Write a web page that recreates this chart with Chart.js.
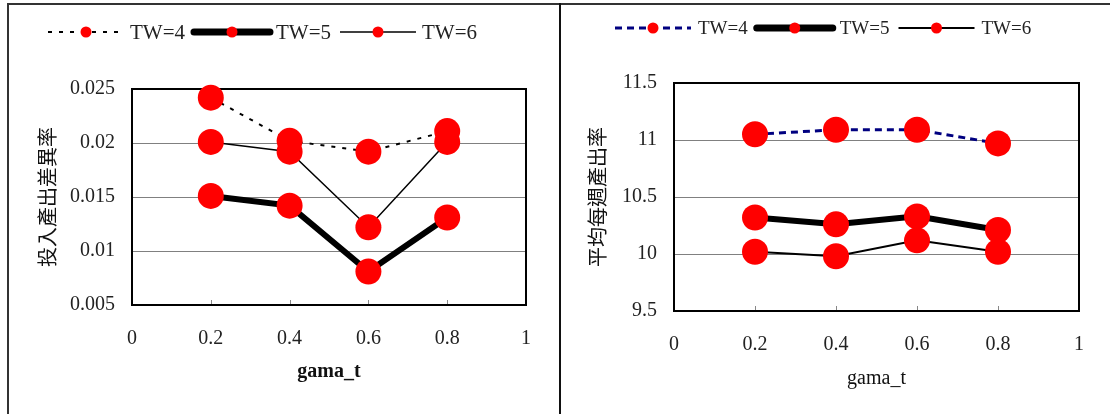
<!DOCTYPE html>
<html>
<head>
<meta charset="utf-8">
<script src="https://cdn.jsdelivr.net/npm/chart.js@4"></script>
<style>
  body { margin: 0; background: #fff; }
  #frame { position: absolute; left: 7px; top: 3px; width: 1110px; height: 420px; border: 2px solid #333; box-sizing: border-box; }
  #divider { position: absolute; left: 559px; top: 3px; width: 2px; height: 420px; background: #111; }
  canvas { position: absolute; }
  #leftChart { left: 9px; top: 5px; }
  #rightChart { left: 562px; top: 5px; }
</style>
</head>
<body>
<div id="frame"></div>
<div id="divider"></div>
<canvas id="leftChart" width="550" height="409"></canvas>
<canvas id="rightChart" width="548" height="409"></canvas>
<script>
// Values.
const xValues = [0.2, 0.4, 0.6, 0.8];
const seriesLabels = ['TW=4', 'TW=5', 'TW=6'];
const xTickLabels = ['0', '0.2', '0.4', '0.6', '0.8', '1'];

const leftTW4 = [0.0242, 0.0202, 0.0192, 0.0211];
const leftTW5 = [0.0151, 0.0142, 0.0081, 0.0131];
const leftTW6 = [0.0201, 0.0192, 0.0122, 0.0201];
const leftYTicks = ['0.005', '0.01', '0.015', '0.02', '0.025'];

const rightTW4 = [11.05, 11.09, 11.09, 10.97];
const rightTW5 = [10.32, 10.26, 10.33, 10.21];
const rightTW6 = [10.02, 9.98, 10.12, 10.02];
const rightYTicks = ['9.5', '10', '10.5', '11', '11.5'];

Chart.defaults.font.family = "'Liberation Serif', serif";
Chart.defaults.color = '#222';

const toPoints = (values) => xValues.map((x, i) => ({ x, y: values[i] }));

// Plot frame, inward x tick marks and the line+marker legend.
const framePlugin = {
  id: 'frameLegend',
  beforeDatasetsDraw(chart, args, opts) {
    const { ctx, chartArea: a } = chart;
    const xs = chart.scales.x;
    ctx.save();
    ctx.strokeStyle = '#888';
    ctx.lineWidth = 1;
    xs.ticks.forEach((t, i) => {
      if (i === 0 || i === xs.ticks.length - 1) return;
      const px = Math.round(xs.getPixelForTick(i)) + 0.5;
      ctx.beginPath();
      ctx.moveTo(px, a.bottom);
      ctx.lineTo(px, a.bottom - 5);
      ctx.stroke();
    });
    ctx.strokeStyle = '#000';
    ctx.lineWidth = 2;
    ctx.strokeRect(a.left, a.top, a.right - a.left, a.bottom - a.top);
    ctx.restore();
  },
  afterDraw(chart, args, opts) {
    const { ctx } = chart;
    let x = opts.x;
    const y = opts.y;
    ctx.save();
    ctx.font = opts.font;
    ctx.textBaseline = 'middle';
    chart.data.datasets.forEach((ds) => {
      ctx.beginPath();
      ctx.setLineDash(ds.borderDash || []);
      ctx.lineCap = ds.legendCap || 'butt';
      ctx.lineWidth = ds.legendWidth || ds.borderWidth;
      ctx.strokeStyle = ds.borderColor;
      ctx.moveTo(x, y);
      ctx.lineTo(x + opts.lineLen, y);
      ctx.stroke();
      ctx.setLineDash([]);
      ctx.beginPath();
      ctx.fillStyle = '#ff0000';
      ctx.arc(x + opts.lineLen / 2, y, 5.5, 0, Math.PI * 2);
      ctx.fill();
      ctx.fillStyle = '#222';
      const tx = x + opts.lineLen + opts.gap;
      ctx.fillText(ds.label, tx, y + 1);
      x = tx + ctx.measureText(ds.label).width + opts.after;
    });
    ctx.restore();
  }
};

const makeChart = (id, cfg) => {
  const pointStyle = {
    pointRadius: 13,
    pointHoverRadius: 13,
    pointBackgroundColor: '#ff0000',
    pointBorderWidth: 0,
    fill: false,
    tension: 0,
    clip: false
  };
  return new Chart(document.getElementById(id), {
    type: 'line',
    data: {
      datasets: [
        { label: seriesLabels[0], data: toPoints(cfg.series[0]), borderColor: cfg.dashColor, borderWidth: cfg.dashWidth, borderDash: cfg.dash, ...pointStyle },
        { label: seriesLabels[1], data: toPoints(cfg.series[1]), borderColor: '#000', borderWidth: 6, legendWidth: 7, legendCap: 'round', ...pointStyle },
        { label: seriesLabels[2], data: toPoints(cfg.series[2]), borderColor: '#000', borderWidth: cfg.thinWidth, ...pointStyle }
      ]
    },
    options: {
      responsive: false,
      animation: false,
      layout: { padding: cfg.padding },
      plugins: {
        legend: { display: false },
        tooltip: { enabled: false },
        frameLegend: cfg.legend
      },
      scales: {
        x: {
          type: 'linear',
          min: 0,
          max: 1,
          ticks: {
            stepSize: 0.2,
            padding: cfg.xTickPad,
            font: { size: 20 },
            callback: (v, i) => xTickLabels[i]
          },
          grid: { display: false, drawTicks: false },
          border: { display: false },
          title: {
            display: true,
            text: 'gama_t',
            font: { size: 20, weight: cfg.xTitleWeight },
            color: '#111',
            padding: { top: 0, bottom: cfg.xTitlePad }
          },
          afterFit: (s) => { s.height = cfg.xHeight; }
        },
        y: {
          min: cfg.yMin,
          max: cfg.yMax,
          ticks: {
            stepSize: cfg.yStep,
            padding: 17,
            font: { size: 20 },
            callback: (v, i) => cfg.yTicks[i]
          },
          grid: { color: '#808080', lineWidth: 1, drawTicks: false },
          border: { display: false },
          title: {
            display: true,
            text: cfg.yTitle,
            font: { family: "'Noto Sans CJK TC', sans-serif", size: 20 },
            color: '#111',
            padding: { top: cfg.yTitlePad, bottom: 0 }
          },
          afterFit: (s) => { s.width = cfg.yWidth; }
        }
      }
    },
    plugins: [framePlugin]
  });
};

makeChart('leftChart', {
  series: [leftTW4, leftTW5, leftTW6],
  dashColor: '#000',
  dashWidth: 2,
  dash: [4, 7],
  thinWidth: 1.5,
  yMin: 0.005,
  yMax: 0.025,
  yStep: 0.005,
  yTicks: leftYTicks,
  yTitle: '投入產出差異率',
  yWidth: 123,
  xHeight: 109,
  xTickPad: 22,
  xTitlePad: 30,
  xTitleWeight: 'bold',
  yTitlePad: 26,
  padding: { top: 84, right: 33, left: 0, bottom: 0 },
  legend: { x: 39, y: 27, lineLen: 76, gap: 6, after: 9, font: "21px 'Liberation Serif'" }
});

makeChart('rightChart', {
  series: [rightTW4, rightTW5, rightTW6],
  dashColor: '#000080',
  dashWidth: 3,
  dash: [7, 5],
  thinWidth: 2,
  yMin: 9.5,
  yMax: 11.5,
  yStep: 0.5,
  yTicks: rightYTicks,
  yTitle: '平均每週產出率',
  yWidth: 112,
  xHeight: 103,
  xTickPad: 22,
  xTitlePad: 23,
  xTitleWeight: 'normal',
  yTitlePad: 23,
  padding: { top: 78, right: 31, left: 0, bottom: 0 },
  legend: { x: 53, y: 23, lineLen: 76, gap: 7, after: 9, font: "19px 'Liberation Serif'" }
});
</script>
</body>
</html>
